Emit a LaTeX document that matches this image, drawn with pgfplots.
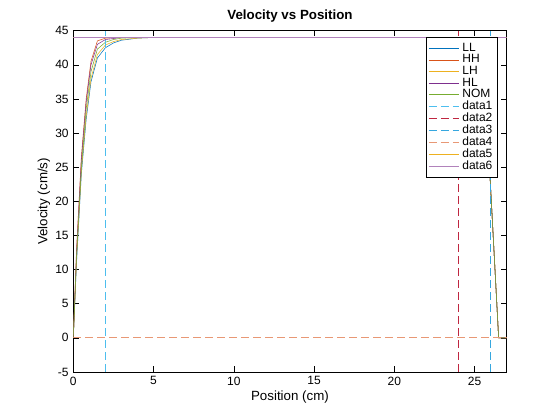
\documentclass[border=0pt]{standalone}
\usepackage{pgfplots}
\pgfplotsset{compat=1.18}
\usepackage{fontspec}
\setmainfont{Liberation Sans}
\definecolor{c1}{rgb}{0,0.447,0.741}
\definecolor{c2}{rgb}{0.85,0.325,0.098}
\definecolor{c3}{rgb}{0.929,0.694,0.125}
\definecolor{c4}{rgb}{0.494,0.184,0.556}
\definecolor{c5}{rgb}{0.466,0.674,0.188}
\definecolor{c6}{rgb}{0.301,0.745,0.933}
\definecolor{c7}{rgb}{0.75,0.15,0.25}
\begin{document}
\begin{tikzpicture}
\path (-55pt,-36pt) rectangle (365pt,279pt);
\begin{axis}[width=325pt,height=256pt,scale only axis,
  at={(0,0)}, anchor=south west,
  xmin=0,xmax=27,ymin=-5,ymax=45,
  xtick={0,5,10,15,20,25}, ytick={-5,0,...,45},
  tick align=inside, tick style={black,thin},
  axis line style={black},
  title={\bfseries Velocity vs Position},
  title style={yshift=-3pt},
  xlabel={Position (cm)}, ylabel={Velocity (cm/s)},
  xlabel style={yshift=3pt}, ylabel style={yshift=-3pt},
  ticklabel style={font=\small},
  /pgf/number format/assume math mode=true,
  legend style={at={(0.98,0.98)},anchor=north east,font=\small,cells={anchor=west},draw=black,row sep=-3pt,inner sep=2pt},
  legend image code/.code={\draw[#1] (0cm,0cm) -- (0.8cm,0cm);},
  every axis plot/.append style={thin},
]
\addplot[c1] coordinates {(0,0)(0.2,11)(0.5,24)(0.8,32)(1.1,37.5)(1.5,41)(2,42.5)(2.5,43.2)(3,43.6)(4,43.9)(5,44)(25.5,44)(26.5,0)(27,0)};
\addlegendentry{LL}
\addplot[c2] coordinates {(0,0)(0.2,13)(0.5,26.5)(0.8,35)(1.1,40.5)(1.5,43.5)(2,43.9)(3,44)(25.5,44)(26.5,0)(27,0)};
\addlegendentry{HH}
\addplot[c3] coordinates {(0,0)(0.2,11.5)(0.5,24.5)(0.8,32.5)(1.1,38)(1.5,41.5)(2,42.9)(2.5,43.4)(3,43.7)(4,43.9)(5,44)(25.5,44)(26.5,0)(27,0)};
\addlegendentry{LH}
\addplot[c4] coordinates {(0,0)(0.2,12.5)(0.5,26)(0.8,34.5)(1.1,40)(1.5,43)(2,43.7)(3,44)(25.5,44)(26.5,0)(27,0)};
\addlegendentry{HL}
\addplot[c5] coordinates {(0,0)(0.2,12)(0.5,25)(0.8,33.5)(1.1,39)(1.5,42.3)(2,43.3)(2.5,43.7)(3,43.9)(4,44)(25.5,44)(26.5,0)(27,0)};
\addlegendentry{NOM}
\addplot[c6,semithick,dash pattern=on 6pt off 3pt] coordinates {(2,-5)(2,45)};
\addlegendentry{data1}
\addplot[c7,semithick,dash pattern=on 6pt off 3pt] coordinates {(24,-5)(24,45)};
\addlegendentry{data2}
\addplot[c6!70!c1,semithick,dash pattern=on 6pt off 3pt] coordinates {(26,-5)(26,45)};
\addlegendentry{data3}
\addplot[c2!60,semithick,dash pattern=on 6pt off 3pt] coordinates {(0,0)(27,0)};
\addlegendentry{data4}
\addplot[c3] coordinates {(0,44)(27,44)};
\addlegendentry{data5}
\addplot[c4!60] coordinates {(0,44)(27,44)};
\addlegendentry{data6}
\end{axis}
\end{tikzpicture}
\end{document}
